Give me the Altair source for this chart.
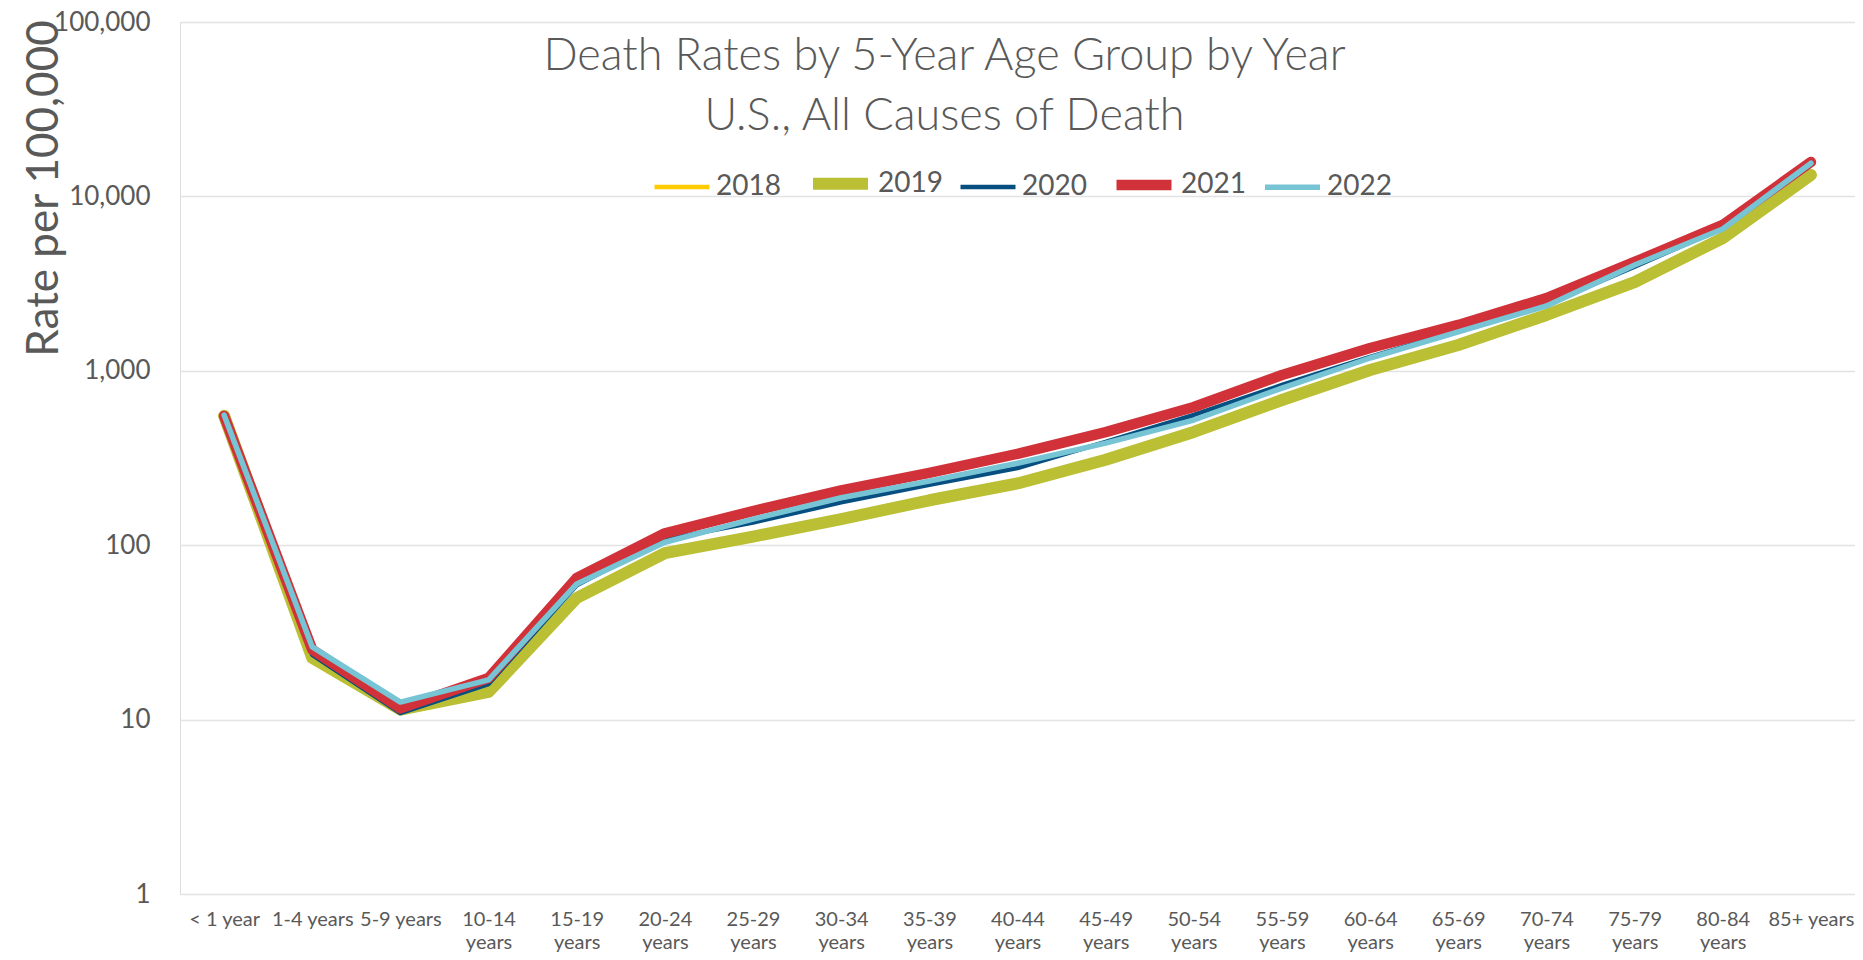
import altair as alt
import pandas as pd

categories = ["< 1 year", "1-4 years", "5-9 years", "10-14 years", "15-19 years",
              "20-24 years", "25-29 years", "30-34 years", "35-39 years", "40-44 years",
              "45-49 years", "50-54 years", "55-59 years", "60-64 years", "65-69 years",
              "70-74 years", "75-79 years", "80-84 years", "85+ years"]

rates_2018 = [567, 23.5, 11.6, 14.7, 50.5, 91, 113, 140, 180, 228, 315, 455, 690, 1010, 1420, 2120, 3300, 5850, 13400]
rates_2019 = [552, 22.6, 11.4, 14.4, 49.8, 90, 112, 141, 181, 226, 309, 446, 680, 1011, 1406, 2090, 3228, 5770, 13270]
rates_2020 = [545, 23.5, 10.9, 16.0, 59, 108, 135, 176, 222, 277, 391, 558, 829, 1200, 1700, 2400, 3950, 6600, 15200]
rates_2021 = [551, 25.2, 11.6, 17.3, 64.9, 117, 157, 206, 260, 334, 445, 620, 946, 1352, 1832, 2612, 4207, 6860, 15740]
rates_2022 = [558, 26.1, 12.6, 16.9, 60, 104, 141, 187, 233, 295, 385, 522, 796, 1184, 1670, 2354, 4044, 6500, 15500]

years = ["2018", "2019", "2020", "2021", "2022"]
series = [rates_2018, rates_2019, rates_2020, rates_2021, rates_2022]
colors = ["#FFCC00", "#BABF33", "#064F80", "#D13239", "#77C4D5"]
widths = [4.5, 12, 4.5, 10.5, 5.5]

rows = []
for yr, vals in zip(years, series):
    for c, v in zip(categories, vals):
        rows.append({"age": c, "rate": v, "year": yr})
df = pd.DataFrame(rows)

FONT = "Lato"
GREY = "#595959"

x_enc = alt.X("age:O", sort=categories,
              scale=alt.Scale(padding=0.5),
              axis=alt.Axis(labelAngle=0, labelFontSize=20, labelColor=GREY, labelFont=FONT,
                            labelExpr="length(datum.label) > 9 ? split(datum.label, ' ') : datum.label",
                            labelLineHeight=23, labelPadding=15, domain=False, ticks=False,
                            grid=False, title=None, labelOverlap=False))
y_enc = alt.Y("rate:Q",
              scale=alt.Scale(type="log", domain=[1, 100000]),
              axis=alt.Axis(values=[1, 10, 100, 1000, 10000, 100000], format=",",
                            labelFontSize=26, labelColor=GREY, labelFont=FONT, labelPadding=30,
                            grid=True, gridColor="#E3E3E3", gridWidth=1.5,
                            domain=False, ticks=False,
                            title="Rate per 100,000", titleFontSize=44, titleColor=GREY,
                            titleFont=FONT, titleFontWeight="normal",
                            titleX=-136, titleY=166, titleAlign="center", titleBaseline="middle"))

legend_spec = alt.Legend(orient="none", legendX=472, legendY=128,
                         direction="horizontal", symbolType="stroke",
                         symbolSize=3025, labelFontSize=28, labelColor=GREY,
                         labelFont=FONT, labelOffset=4, columnPadding=8,
                         title=None)
color_enc = alt.Color("year:O", scale=alt.Scale(domain=years, range=colors), legend=legend_spec)
sw_enc = alt.StrokeWidth("year:O", scale=alt.Scale(type="ordinal", domain=years, range=widths),
                         legend=legend_spec)

layers = []
for yr in years:
    layers.append(
        alt.Chart(df).transform_filter(alt.datum.year == yr)
        .mark_line(strokeCap="round", strokeJoin="round")
        .encode(x=x_enc, y=y_enc, color=color_enc, strokeWidth=sw_enc)
    )

chart = alt.layer(*layers).properties(
    width=1675, height=872,
    padding={"left": 172, "top": 14, "right": 0, "bottom": 58},
    autosize=alt.AutoSizeParams(type="none"),
    title=alt.TitleParams(text=["Death Rates by 5-Year Age Group by Year", "U.S., All Causes of Death"],
                          fontSize=45, font=FONT, fontWeight=300, color=GREY,
                          anchor="middle", frame="group", baseline="top", offset=0, dy=130,
                          dx=-73, lineHeight=60),
).configure_view(stroke=None).configure(background="white")

chart.save("out.html", embed_options={"renderer": "svg", "actions": False})
